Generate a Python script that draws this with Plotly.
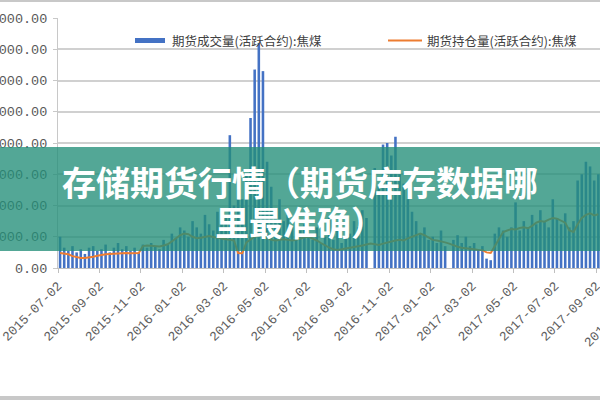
import plotly.graph_objects as go

# ---- data ----
volume = [1000, 650, 550, 700, 500, 600, 450, 650, 700, 550,
          600, 750, 500, 650, 800, 600, 700, 550, 650, 500,
          750, 650, 800, 700, 600, 900, 750, 1100, 950, 1300,
          1200, 1000, 1500, 1300, 1100, 1700, 1400, 1200, 1800, 1500,
          1600, 4250, 2000, 2500, 2200, 3000, 4800, 6350, 7200, 6300,
          3400, 2600, 1800, 2200, 1500, 1700, 1300, 1600, 1200, 1400,
          1100, 900, 1300, 800, 1000, 1600, 900, 1200, 800, 1000,
          1100, 1500, 1300, 1850, 1600, 0, 3200, 2600, 3950, 4000,
          3600, 4200, 3000, 2700, 2200, 1800, 1500, 1100, 1300, 900,
          1000, 800, 1200, 700, 0, 900, 1050, 800, 1000, 700,
          800, 600, 700, 300, 250, 1100, 1300, 1200, 1000, 1300,
          2100, 1200, 1500, 1300, 1700, 1400, 1850, 1500, 1300, 2200,
          1600, 1400, 1750, 1300, 1500, 2800, 3000, 3400, 3250, 2800,
          3000]

open_interest = [480, 470, 440, 380, 340, 320, 320, 330, 360, 390,
                 420, 440, 450, 460, 470, 470, 480, 475, 470, 480,
                 700, 720, 710, 700, 690, 720, 760, 850, 950, 1050,
                 1100, 1080, 1000, 950, 970, 1000, 1020, 990, 960, 940,
                 920, 900, 880, 480, 470, 820, 900, 1000, 1050, 1000,
                 950, 900, 880, 900, 920, 900, 880, 900, 950, 980,
                 1000, 950, 880, 800, 720, 650, 600, 580, 600, 620,
                 650, 680, 700, 720, 750, 780, 760, 740, 780, 820,
                 860, 880, 900, 880, 950, 1000, 1050, 1100, 1050, 980,
                 900, 880, 860, 820, 780, 720, 680, 650, 640, 620,
                 600, 580, 570, 500, 480, 700, 950, 1150, 1200, 1250,
                 1230, 1280, 1300, 1270, 1350, 1450, 1500, 1480, 1550, 1600,
                 1580, 1520, 1450, 1200, 1150, 1400, 1600, 1700, 1750, 1680,
                 1720]

tick_labels = ["2015-07-02", "2015-09-02", "2015-11-02", "2016-01-02",
               "2016-03-02", "2016-05-02", "2016-07-02", "2016-09-02",
               "2016-11-02", "2017-01-02", "2017-03-02", "2017-05-02",
               "2017-07-02", "2017-09-02"]
next_label = "2017-11-02"
y_ticks = [0, 1000, 2000, 3000, 4000, 5000, 6000, 7000, 8000]

legend_bar = "期货成交量(活跃合约):焦煤"
legend_line = "期货持仓量(活跃合约):焦煤"
title_1 = "存储期货行情（期货库存数据哪"
title_2 = "里最准确）"

idx = list(range(len(volume)))
step = 10

fig = go.Figure()
fig.add_trace(go.Bar(x=idx, y=volume, name=legend_bar,
                     marker=dict(color="#4472C4", line=dict(width=0)),
                     showlegend=False))
fig.add_trace(go.Scatter(x=idx, y=open_interest, name=legend_line, mode="lines",
                         line=dict(color="#ED7D31", width=2), showlegend=False))

fig.update_layout(
    width=600, height=400, autosize=False,
    margin=dict(l=58, r=0, t=18, b=132),
    paper_bgcolor="white", plot_bgcolor="white",
    bargap=0.38,
)
fig.update_xaxes(
    range=[-0.5, 130.4], automargin=False, ticklabeloverflow="allow",
    tickmode="array",
    tickvals=[step * k - 0.5 for k in range(len(tick_labels))],
    ticktext=tick_labels,
    tickangle=-45,
    ticks="outside", ticklen=4, tickcolor="#bfbfbf",
    showgrid=False, showline=True, linecolor="#bfbfbf", linewidth=1,
    tickfont=dict(family="Liberation Mono", size=13, color="#606060"),
    zeroline=False,
)
fig.update_yaxes(
    range=[0, 8000], automargin=False, ticklabeloverflow="allow",
    tickmode="array", tickvals=y_ticks, tickformat=".2f",
    ticks="outside", ticklen=4, tickcolor="#c8c8c8",
    ticklabelstandoff=3,
    showgrid=True, gridcolor="#d0d0d0", gridwidth=1.5,
    showline=True, linecolor="#c8c8c8", linewidth=1,
    tickfont=dict(family="Liberation Mono", size=13.5, color="#595959"),
    zeroline=False,
)

def px_x(x):
    return (x - 58) / 542.0

def px_y(y):
    return (268 - y) / 250.0

shapes = []
# manual legend
shapes.append(dict(type="rect", xref="paper", yref="paper",
                   x0=px_x(135), x1=px_x(165), y0=px_y(43), y1=px_y(38),
                   fillcolor="#4472C4", line=dict(width=0)))
shapes.append(dict(type="line", xref="paper", yref="paper",
                   x0=px_x(388), x1=px_x(422), y0=px_y(40.5), y1=px_y(40.5),
                   line=dict(color="#ED7D31", width=2)))
# teal banner
shapes.append(dict(type="rect", xref="paper", yref="paper", layer="above",
                   x0=px_x(0), x1=px_x(600), y0=px_y(251), y1=px_y(147),
                   fillcolor="rgba(34,142,120,0.78)", line=dict(width=0)))
# frame bits of the screenshot
shapes.append(dict(type="rect", xref="paper", yref="paper", layer="above",
                   x0=px_x(0), x1=px_x(600), y0=px_y(2), y1=px_y(0),
                   fillcolor="#c8c8c8", line=dict(width=0)))
shapes.append(dict(type="rect", xref="paper", yref="paper", layer="above",
                   x0=px_x(0), x1=px_x(600), y0=px_y(400), y1=px_y(396),
                   fillcolor="#c8c8c8", line=dict(width=0)))

annotations = [
    dict(text=legend_bar, xref="paper", yref="paper", x=px_x(170), y=px_y(40.5),
         xanchor="left", yanchor="middle", showarrow=False,
         font=dict(family="Noto Sans CJK SC", size=12.5, color="#404040")),
    dict(text=legend_line, xref="paper", yref="paper", x=px_x(425), y=px_y(40.5),
         xanchor="left", yanchor="middle", showarrow=False,
         font=dict(family="Noto Sans CJK SC", size=12.5, color="#404040")),
    dict(text="<b>" + title_1 + "</b>", xref="paper", yref="paper",
         x=px_x(300), y=px_y(181), xanchor="center", yanchor="middle", showarrow=False,
         height=38,
         font=dict(family="Noto Sans CJK SC", size=34, color="white")),
    dict(text="<b>" + title_2 + "</b>", xref="paper", yref="paper",
         x=px_x(300), y=px_y(221), xanchor="center", yanchor="middle", showarrow=False,
         height=38,
         font=dict(family="Noto Sans CJK SC", size=34, color="white")),
    dict(text=next_label, xref="paper", yref="paper",
         x=px_x(614), y=px_y(317), xanchor="center", yanchor="middle", showarrow=False,
         textangle=-45,
         font=dict(family="Liberation Mono", size=13, color="#606060")),
]

fig.update_layout(shapes=shapes, annotations=annotations)
fig.write_html("out.html", config={"displayModeBar": False},
               post_script="document.body.style.margin='0px';")
